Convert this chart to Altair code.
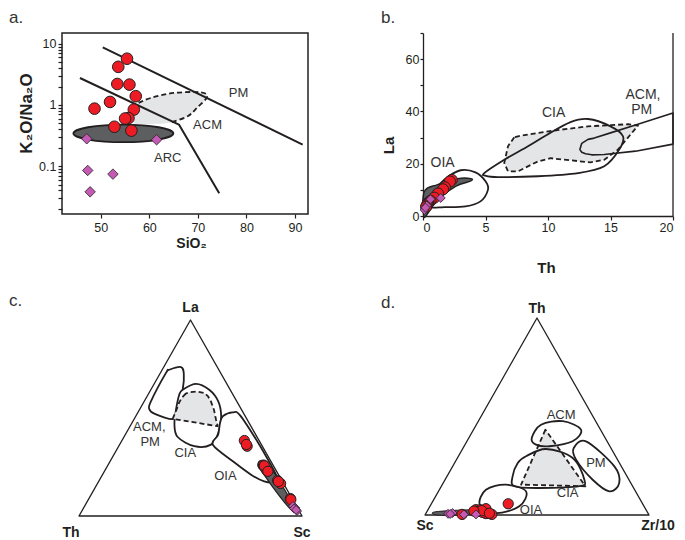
import altair as alt
import pandas as pd

FONT = "Liberation Sans"
INK = "#231f20"
TXT = "#333333"
RED = "#ed1c24"
PURPLE = "#c45ab4"
LIGHT = "#e4e5e7"
DARK = "#5d5e60"
WHITE = "#ffffff"

# ================= Panel a : K2O/Na2O vs SiO2 =================
a_red_sio2 = [55.4, 53.6, 53.4, 55.9, 57.2, 51.9, 48.7, 56.8, 55.7, 55.0, 52.8, 56.3]
a_red_ratio = [5.7, 4.2, 2.2, 2.15, 1.39, 1.12, 0.87, 0.84, 0.61, 0.60, 0.44, 0.38]
a_pur_sio2 = [47.1, 61.5, 47.3, 52.5, 47.8]
a_pur_ratio = [0.28, 0.27, 0.085, 0.074, 0.038]
a_pmline_sio2 = [50.4, 91.6]
a_pmline_ratio = [8.7, 0.225]
a_arcline_sio2 = [45.7, 66.1, 74.4]
a_arcline_ratio = [2.76, 0.477, 0.036]
a_arc_sio2 = [64.95, 61.93, 54.65, 47.37, 44.35, 47.37, 54.65, 61.93]
a_arc_ratio = [0.343, 0.432, 0.477, 0.432, 0.343, 0.272, 0.246, 0.272]
a_acm_sio2 = [56.2, 57.8, 60.3, 65.0, 70.6, 71.9, 70.0, 67.9, 64.4, 60.3, 57.2, 55.8]
a_acm_ratio = [0.93, 1.08, 1.30, 1.57, 1.61, 1.35, 0.93, 0.654, 0.518, 0.49, 0.49, 0.662]
a_acmdash_sio2 = [57.8, 60.3, 65.0, 70.6, 71.9, 70.0, 67.9, 64.4]
a_acmdash_ratio = [1.08, 1.30, 1.57, 1.61, 1.35, 0.93, 0.654, 0.518]
a_lab_text = ["PM", "ACM", "ARC"]
a_lab_sio2 = [78.4, 72.0, 63.8]
a_lab_ratio = [1.57, 0.467, 0.137]
a_yticks = [0.02, 0.03, 0.04, 0.05, 0.06, 0.07, 0.08, 0.09, 0.1,
            0.2, 0.3, 0.4, 0.5, 0.6, 0.7, 0.8, 0.9, 1,
            2, 3, 4, 5, 6, 7, 8, 9, 10]
a_xticks = [50, 60, 70, 80, 90]

# ================= Panel b : La vs Th =================
b_red_th = [2.3, 2.15, 1.75, 1.6, 1.2, 0.9, 0.6, 0.45, 0.4, 0.35, 0.3, 0.25]
b_red_la = [13.8, 13.2, 11.0, 10.2, 8.6, 7.0, 5.8, 5.2, 4.8, 4.5, 4.0, 3.5]
b_pur_th = [0.6, 1.42, 0.13, 0.3, 0.2]
b_pur_la = [6.4, 6.9, 2.3, 4.0, 3.2]
b_oia_th = [0.3, 0.7, 1.7, 3.0, 4.2, 5.0, 5.2, 4.6, 3.4, 1.7, 0.8]
b_oia_la = [4.0, 8.5, 13.9, 17.5, 16.7, 13.3, 10.1, 5.6, 3.7, 3.4, 3.2]
b_cia_th = [4.9, 6.5, 8.4, 9.9, 11.8, 13.2, 15.0, 16.0, 15.7, 14.5, 12.4, 9.2, 6.0, 5.0]
b_cia_la = [16.4, 21.5, 26.7, 31.0, 35.9, 37.1, 34.3, 30.5, 25.4, 19.0, 16.4, 15.2, 14.9, 15.4]
b_dash_th = [7.3, 6.8, 6.5, 6.8, 7.6, 9.2, 10.2, 11.8, 13.4, 14.5, 15.6, 17.2, 16.4, 13.2, 10.0, 7.6]
b_dash_la = [30.1, 26.7, 20.3, 17.1, 17.1, 20.9, 22.1, 21.3, 20.5, 21.5, 25.4, 34.6, 35.1, 34.3, 32.4, 30.5]
b_acm_th = [20.0, 17.0, 15.0, 13.7, 13.2, 12.7, 12.55, 12.7, 13.0, 13.5, 14.5, 17.0, 20.0]
b_acm_la = [39.4, 34.8, 31.8, 29.8, 29.3, 27.8, 25.4, 24.4, 23.8, 23.4, 23.5, 24.8, 27.5]
b_dark_th = [0.05, 0.11, 1.17, 2.77, 3.84, 3.79, 2.64, 1.17, 0.32]
b_dark_la = [0.2, 9.4, 12.0, 14.3, 14.3, 13.3, 11.4, 6.2, 0.6]
b_lab_text = ["OIA", "CIA", "ACM,", "PM"]
b_lab_th = [1.57, 10.45, 17.6, 17.5]
b_lab_la = [20.3, 39.4, 46.4, 40.5]
b_xticks = [0, 5, 10, 15, 20]
b_yticks = [0, 10, 20, 30, 40, 50, 60, 70]

# ================= Panel c : La - Th - Sc (La %, Sc %) =================
c_acm_la = [74.6, 76.0, 72.6, 64.4, 56.0, 49.5, 52.2, 54.6, 58.5, 73.0]
c_acm_sc = [3.2, 7.7, 10.7, 14.3, 16.3, 17.5, 7.7, 4.2, 3.0, 2.5]
c_cia_la = [64.4, 67.4, 64.4, 58.5, 50.9, 42.4, 36.4, 35.6, 40.3, 46.6, 54.2, 61.9]
c_cia_sc = [14.3, 18.8, 26.2, 33.2, 38.3, 41.3, 41.0, 33.9, 24.1, 19.5, 16.4, 14.0]
c_dash_la = [61.4, 62.5, 63.1, 63.5, 62.8, 61.0, 58.5, 54.1, 49.1, 45.8, 49.6, 53.6, 57.7, 60.2]
c_dash_sc = [16.3, 16.7, 17.9, 21.2, 24.8, 27.4, 29.9, 33.5, 36.9, 39.3, 17.2, 16.7, 16.0, 15.9]
c_oia_la = [47.5, 51.0, 52.9, 51.5, 38.3, 26.0, 19.9, 17.4, 17.7, 21.1, 27.4, 36.2, 41.3]
c_oia_sc = [39.5, 39.1, 42.5, 46.4, 60.7, 73.1, 78.8, 79.2, 74.2, 66.6, 55.9, 42.0, 41.7]
c_dark_la = [28.1, 27.0, 18.9, 9.7, 3.1, 2.0, 6.6, 13.8, 21.9, 25.5]
c_dark_sc = [67.1, 70.8, 79.8, 89.3, 95.8, 95.4, 89.1, 80.6, 71.5, 67.5]
c_red_la = [38.5, 35.6, 26.0, 23.2, 18.1, 16.6, 8.9, 25.6, 17.6, 8.4, 36.5, 22.8]
c_red_sc = [54.9, 57.6, 69.7, 72.7, 80.0, 82.1, 90.3, 70.3, 80.6, 90.8, 56.8, 73.3]
c_pur_la = [4.1, 5.1, 2.6, 3.8, 3.1]
c_pur_sc = [95.0, 93.4, 96.5, 94.5, 95.8]
c_lab_text = ["ACM,", "PM", "CIA", "OIA"]
c_lab_la = [45.4, 37.8, 32.1, 20.3]
c_lab_sc = [8.8, 13.0, 31.6, 55.5]

# ================= Panel d : Th - Sc - Zr/10 (Th %, Zr/10 %) =================
d_acm_th = [39.1, 45.8, 47.6, 43.3, 37.4, 34.9, 35.7]
d_acm_zr = [28.1, 28.9, 37.7, 48.0, 47.2, 38.1, 31.7]
d_pm_th = [34.0, 37.4, 24.7, 16.2, 12.0, 17.9, 28.1]
d_pm_zr = [49.4, 53.2, 72.2, 78.6, 76.3, 65.9, 53.4]
d_cia_th = [29.8, 33.5, 28.9, 17.9, 14.6, 13.7, 14.6, 19.6, 26.4]
d_cia_zr = [30.2, 37.3, 51.5, 62.2, 61.6, 44.2, 32.6, 29.3, 28.2]
d_dash_th = [43.3, 15.4, 14.6]
d_dash_zr = [32.1, 35.2, 64.3]
d_oia_th = [5.2, 12.8, 15.4, 12.0, 4.4, 1.0]
d_oia_zr = [21.9, 20.8, 28.5, 39.1, 39.9, 31.2]
d_dark_th = [1.5, 2.5, 2.5, 1.0, 0.0, 0.0]
d_dark_zr = [3.3, 14.8, 27.3, 29.4, 16.1, 5.4]
d_red_th = [5.7, 2.7, 2.7, 3.2, 0.7, 0.3, 0.3, 1.8, 1.3, 2.2, 0.9, 2.0]
d_red_zr = [34.3, 21.4, 23.3, 25.6, 26.9, 29.7, 16.4, 22.5, 25.0, 24.2, 28.3, 20.8]
d_pur_th = [0.6, 1.0, 0.3, 0.3, 0.5]
d_pur_zr = [10.0, 11.8, 17.2, 22.6, 11.0]
d_lab_text = ["ACM", "PM", "CIA", "OIA"]
d_lab_th = [50.9, 26.4, 11.2, 2.7]
d_lab_zr = [35.3, 63.1, 58.1, 46.0]

TRI_TOP = [100, 0, 0]
TRI_RIGHT = [0, 0, 100]

TCALC = {"x": "(datum.right + datum.top / 2) / 100", "y": "datum.top * 0.8660254 / 100"}


def frame(xs, ys):
    return pd.DataFrame({"x": xs, "y": ys, "i": list(range(len(xs)))})


def tframe(top, right):
    return pd.DataFrame({"top": top, "right": right, "i": list(range(len(top)))})


def shape(df, X, Y, fill=None, stroke=INK, width=1.8, dash=None,
          interp="cardinal-closed", tern=False):
    kw = {"interpolate": interp, "strokeWidth": width, "strokeJoin": "round"}
    if fill is not None:
        kw["fill"] = fill
    if stroke is None:
        kw["stroke"] = "transparent"
        kw["strokeOpacity"] = 0
    else:
        kw["stroke"] = stroke
    if dash is not None:
        kw["strokeDash"] = dash
    ch = alt.Chart(df).mark_line(**kw)
    if tern:
        ch = ch.transform_calculate(**TCALC)
    return ch.encode(x=X, y=Y, order=alt.Order("i:Q"))


def circles(df, X, Y, tern=False, size=125):
    ch = alt.Chart(df).mark_point(shape="circle", filled=True, size=size, fill=RED,
                                  stroke=INK, strokeWidth=1, opacity=1)
    if tern:
        ch = ch.transform_calculate(**TCALC)
    return ch.encode(x=X, y=Y)


def diamonds(df, X, Y, tern=False, size=105):
    ch = alt.Chart(df).mark_point(shape="diamond", filled=True, size=size, fill=PURPLE,
                                  stroke=INK, strokeWidth=0.8, opacity=1)
    if tern:
        ch = ch.transform_calculate(**TCALC)
    return ch.encode(x=X, y=Y)


def labels(df, X, Y, tern=False, size=13, weight="normal", dx=0, dy=0, color=TXT):
    ch = alt.Chart(df).mark_text(font=FONT, fontSize=size, fontWeight=weight, color=color,
                                 align="center", baseline="middle", dx=dx, dy=dy)
    if tern:
        ch = ch.transform_calculate(**TCALC)
    return ch.encode(x=X, y=Y, text="t:N")


def letter(txt, px, py):
    return alt.Chart(pd.DataFrame({"t": [txt]})).mark_text(
        font=FONT, fontSize=17, color=TXT, align="left", baseline="alphabetic"
    ).encode(x=alt.value(px), y=alt.value(py), text="t:N")


# ---------------- panel a ----------------
aX = alt.X("x:Q", scale=alt.Scale(domain=[42, 92.7], nice=False, zero=False),
           axis=alt.Axis(values=a_xticks, title="SiO₂", titleFontSize=14, titleFontWeight="bold",
                         labelFontSize=12.5, tickSize=4, labelPadding=3, titlePadding=3,
                         domain=False, titleX=129))
aY = alt.Y("y:Q", scale=alt.Scale(type="log", domain=[0.0165, 15], nice=False),
           axis=alt.Axis(values=a_yticks,
                         labelExpr="datum.value == 10 ? '10' : datum.value == 1 ? '1' : datum.value == 0.1 ? '0.1' : ''",
                         title="K₂O/Na₂O", titleFontSize=17, titleFontWeight="bold",
                         labelFontSize=12.5, tickSize=4, labelPadding=2, titlePadding=3,
                         domain=False, titleY=80))

a_lab = pd.DataFrame({"x": a_lab_sio2, "y": a_lab_ratio, "t": a_lab_text})
panel_a = alt.layer(
    shape(frame(a_acm_sio2, a_acm_ratio), aX, aY, fill=LIGHT, stroke=None),
    shape(frame(a_arc_sio2, a_arc_ratio), aX, aY, fill=DARK, stroke=INK, width=1.8),
    shape(frame(a_acmdash_sio2, a_acmdash_ratio), aX, aY, stroke=INK, width=1.8,
          dash=[5, 3], interp="cardinal"),
    shape(frame(a_pmline_sio2, a_pmline_ratio), aX, aY, stroke=INK, width=2, interp="linear"),
    shape(frame(a_arcline_sio2, a_arcline_ratio), aX, aY, stroke=INK, width=2, interp="linear"),
    diamonds(frame(a_pur_sio2, a_pur_ratio), aX, aY, size=110),
    circles(frame(a_red_sio2, a_red_ratio), aX, aY, size=135),
    labels(a_lab, aX, aY),
    letter("a.", -53, -10),
).properties(width=246, height=181, view=alt.ViewBackground(stroke=INK, strokeWidth=1.5))

# ---------------- panel b ----------------
bX = alt.X("x:Q", scale=alt.Scale(domain=[0, 20], nice=False, zero=False),
           axis=alt.Axis(values=b_xticks, title="Th", titleFontSize=15, titleFontWeight="bold",
                         labelFontSize=12.5, tickSize=4, labelPadding=1, titlePadding=27,
                         domainWidth=1.3, titleX=123))
bY = alt.Y("y:Q", scale=alt.Scale(domain=[0, 70], nice=False, zero=False),
           axis=alt.Axis(values=b_yticks, labelExpr="datum.value % 20 == 0 ? datum.label : ''",
                         title="La", titleFontSize=15, titleFontWeight="bold",
                         labelFontSize=12.5, tickSize=3, labelPadding=1, titlePadding=9,
                         domainWidth=1.3, titleY=112))
b_lab = pd.DataFrame({"x": b_lab_th, "y": b_lab_la, "t": b_lab_text})
b_right = pd.DataFrame({"x": [20], "y": [0], "y2": [70]})
panel_b = alt.layer(
    alt.Chart(b_right).mark_rule(color=INK, strokeWidth=1.3).encode(x=bX, y=bY, y2="y2:Q"),
    shape(frame(b_oia_th, b_oia_la), bX, bY, fill=WHITE, stroke=INK),
    shape(frame(b_cia_th, b_cia_la), bX, bY, fill=WHITE, stroke=None),
    shape(frame(b_dash_th, b_dash_la), bX, bY, fill=LIGHT, stroke=None, interp="linear-closed"),
    shape(frame(b_cia_th, b_cia_la), bX, bY, stroke=INK),
    shape(frame(b_acm_th, b_acm_la), bX, bY, stroke=INK, width=1.6, interp="linear-closed"),
    shape(frame(b_dash_th, b_dash_la), bX, bY, stroke=INK, dash=[5, 3], interp="linear-closed"),
    shape(frame(b_dark_th, b_dark_la), bX, bY, fill=DARK, stroke=INK, width=1.4),
    circles(frame(b_red_th, b_red_la), bX, bY, size=125),
    diamonds(frame(b_pur_th, b_pur_la), bX, bY, size=80),
    labels(b_lab, bX, bY, size=14),
    letter("b.", -42, -10),
).properties(width=250, height=183)

# ---------------- panel c ----------------
cX = alt.X("x:Q", scale=alt.Scale(domain=[-0.07623, 1.0], nice=False, zero=False), axis=None)
cY = alt.Y("y:Q", scale=alt.Scale(domain=[0, 0.87484], nice=False, zero=False), axis=None)
c_lab = tframe(c_lab_la, c_lab_sc).assign(t=c_lab_text)
panel_c = alt.layer(
    shape(tframe(TRI_TOP, TRI_RIGHT), cX, cY, stroke=INK, width=1.3, interp="linear-closed", tern=True),
    shape(tframe(c_acm_la, c_acm_sc), cX, cY, fill=WHITE, stroke=INK, tern=True),
    shape(tframe(c_cia_la, c_cia_sc), cX, cY, fill=WHITE, stroke=INK, tern=True),
    shape(tframe(c_dash_la, c_dash_sc), cX, cY, fill=LIGHT, stroke=INK, dash=[5, 3],
          interp="linear-closed", tern=True),
    shape(tframe(c_oia_la, c_oia_sc), cX, cY, fill=WHITE, stroke=INK, tern=True),
    shape(tframe(c_dark_la, c_dark_sc), cX, cY, fill=DARK, stroke=INK, width=1.2, tern=True),
    circles(tframe(c_red_la, c_red_sc), cX, cY, tern=True, size=105),
    diamonds(tframe(c_pur_la, c_pur_sc), cX, cY, tern=True, size=80),
    labels(c_lab, cX, cY, tern=True, size=13),
    labels(tframe([100], [0]).assign(t=["La"]), cX, cY, tern=True, size=14, weight="bold", dy=-12, color=INK),
    labels(tframe([0], [0]).assign(t=["Th"]), cX, cY, tern=True, size=14, weight="bold", dx=-8, dy=17, color=INK),
    labels(tframe([0], [100]).assign(t=["Sc"]), cX, cY, tern=True, size=14, weight="bold", dy=17, color=INK),
    letter("c.", -53, -12),
).properties(width=240, height=198)

# ---------------- panel d ----------------
dX = alt.X("x:Q", scale=alt.Scale(domain=[-0.00893, 1.0], nice=False, zero=False), axis=None)
dY = alt.Y("y:Q", scale=alt.Scale(domain=[0, 0.866], nice=False, zero=False), axis=None)
d_lab = tframe(d_lab_th, d_lab_zr).assign(t=d_lab_text)
panel_d = alt.layer(
    shape(tframe(TRI_TOP, TRI_RIGHT), dX, dY, stroke=INK, width=1.3, interp="linear-closed", tern=True),
    shape(tframe(d_cia_th, d_cia_zr), dX, dY, fill=WHITE, stroke=None, tern=True),
    shape(tframe(d_acm_th, d_acm_zr), dX, dY, fill=WHITE, stroke=None, tern=True),
    shape(tframe(d_pm_th, d_pm_zr), dX, dY, fill=WHITE, stroke=INK, tern=True),
    shape(tframe(d_dash_th, d_dash_zr), dX, dY, fill=LIGHT, stroke=None, interp="linear-closed", tern=True),
    shape(tframe(d_cia_th, d_cia_zr), dX, dY, stroke=INK, tern=True),
    shape(tframe(d_acm_th, d_acm_zr), dX, dY, stroke=INK, tern=True),
    shape(tframe(d_dash_th, d_dash_zr), dX, dY, stroke=INK, dash=[5, 3], interp="linear-closed", tern=True),
    shape(tframe(d_oia_th, d_oia_zr), dX, dY, stroke=INK, tern=True),
    shape(tframe(d_dark_th, d_dark_zr), dX, dY, fill=DARK, stroke=INK, width=1.0, tern=True),
    circles(tframe(d_red_th, d_red_zr), dX, dY, tern=True, size=105),
    diamonds(tframe(d_pur_th, d_pur_zr), dX, dY, tern=True, size=80),
    labels(d_lab, dX, dY, tern=True, size=13),
    labels(tframe([100], [0]).assign(t=["Th"]), dX, dY, tern=True, size=14, weight="bold", dy=-9, color=INK),
    labels(tframe([0], [0]).assign(t=["Sc"]), dX, dY, tern=True, size=14, weight="bold", dy=11, color=INK),
    labels(tframe([0], [100]).assign(t=["Zr/10"]), dX, dY, tern=True, size=14, weight="bold", dx=9, dy=11, color=INK),
    letter("d.", -42, -10),
).properties(width=226, height=197)

chart = alt.concat(
    panel_a, panel_b, panel_c, panel_d,
    columns=2, spacing={"row": 102, "column": 115}, bounds="flush",
).properties(
    padding={"left": 0, "top": 0, "right": 0, "bottom": 0},
    background="white",
).configure_view(stroke="transparent").configure_axis(
    labelFont=FONT, titleFont=FONT, labelColor=INK, titleColor=INK,
    domainColor=INK, tickColor=INK, grid=False, tickWidth=1.2,
)

chart.save("out.html", embed_options={"renderer": "svg", "actions": False})
